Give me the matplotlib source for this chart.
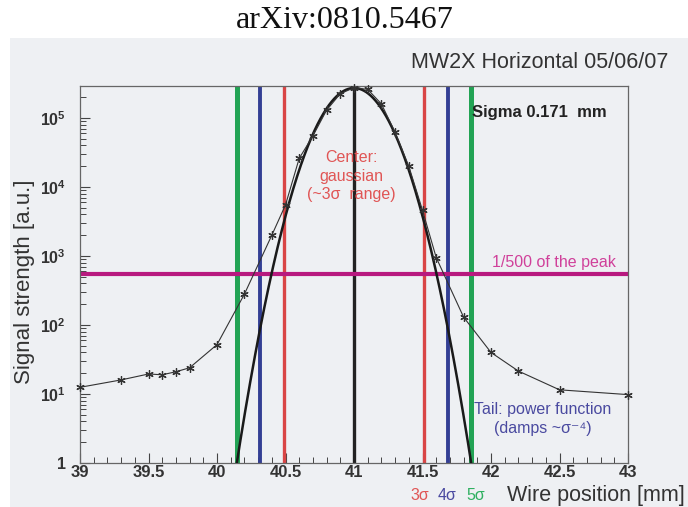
import numpy as np
import matplotlib
matplotlib.use("Agg")
import matplotlib.pyplot as plt
from matplotlib.patches import Rectangle
from matplotlib.ticker import FixedLocator, FixedFormatter, MultipleLocator, LogLocator, NullFormatter

plt.rcParams['font.family'] = ['Liberation Sans', 'DejaVu Sans']
plt.rcParams['mathtext.fontset'] = 'custom'
plt.rcParams['mathtext.rm'] = 'Liberation Sans'
plt.rcParams['mathtext.bf'] = 'Liberation Sans:bold'
plt.rcParams['mathtext.it'] = 'Liberation Sans:italic'

# ---- data ----
wire_pos = [39.0, 39.3, 39.5, 39.6, 39.7, 39.8, 40.0, 40.2, 40.4, 40.5, 40.6, 40.7,
            40.8, 40.9, 41.0, 41.1, 41.2, 41.3, 41.4, 41.5, 41.6, 41.8, 42.0, 42.2,
            42.5, 43.0]
signal = [12.5, 16, 19.5, 19, 21, 24, 52, 280, 2000, 5500, 26000, 55000,
          130000, 225000, 275000, 260000, 160000, 62000, 20000, 4600, 950, 130, 40, 21.5,
          11.5, 9.8]

fit_amp = 2.72e5      # gaussian fit amplitude
fit_mean = 41.0       # gaussian fit centre [mm]
fit_sigma = 0.171     # gaussian fit sigma [mm]
sigma_multiples = [3, 4, 5]
sigma_colors = ['#d94545', '#333f94', '#22a354']
peak_fraction = 1 / 500

x_ticks = [39, 39.5, 40, 40.5, 41, 41.5, 42, 42.5, 43]
x_ticklabels = ['39', '39.5', '40', '40.5', '41', '41.5', '42', '42.5', '43']
y_ticks = [1, 10, 100, 1000, 1e4, 1e5]
y_ticklabels = ['1', r'$\mathbf{10^{1}}$', r'$\mathbf{10^{2}}$', r'$\mathbf{10^{3}}$',
                r'$\mathbf{10^{4}}$', r'$\mathbf{10^{5}}$']

W, H = 688, 507
def px(x, y):
    return (x / W, 1 - y / H)

fig = plt.figure(figsize=(W / 100, H / 100), dpi=100)
fig.patch.set_facecolor('white')
bg = '#eef0f3'
fig.patches.append(Rectangle((10 / W, 0), 1 - 10 / W, (H - 38) / H,
                             transform=fig.transFigure, facecolor=bg, edgecolor='none', zorder=-10))

left, right, top, bottom = 80, 628, 86, 463
ax = fig.add_axes([left / W, 1 - bottom / H, (right - left) / W, (bottom - top) / H])
ax.set_facecolor(bg)
ax.set_yscale('log')
ax.set_xlim(39, 43)
ax.set_ylim(1, 2.91e5)

# sigma lines
lw_map = {3: 2.4, 4: 2.8, 5: 3.6}
for k, c in zip(sigma_multiples, sigma_colors):
    for s in (-1, 1):
        ax.axvline(fit_mean + s * k * fit_sigma, color=c, lw=lw_map[k], zorder=2)
ax.axvline(fit_mean, color='#222222', lw=2.4, zorder=2)
ax.axhline(fit_amp * peak_fraction, color='#b8197f', lw=3.0, zorder=2)

# gaussian fit curve
xf = np.linspace(39, 43, 2001)
yf = fit_amp * np.exp(-0.5 * ((xf - fit_mean) / fit_sigma) ** 2)
ax.plot(xf, yf, color='#1a1a1a', lw=1.8, zorder=3)

# data
ax.plot(wire_pos, signal, color='#333333', lw=0.8, marker=(6, 2, 0), markersize=6,
        markeredgewidth=0.9, zorder=4, clip_on=False)

# axes styling
for sp in ax.spines.values():
    sp.set_color('#666666')
    sp.set_linewidth(0.9)
ax.xaxis.set_major_locator(FixedLocator(x_ticks))
ax.xaxis.set_major_formatter(FixedFormatter(x_ticklabels))
ax.xaxis.set_minor_locator(MultipleLocator(0.1))
ax.yaxis.set_major_locator(FixedLocator(y_ticks))
ax.yaxis.set_major_formatter(FixedFormatter(y_ticklabels))
ax.yaxis.set_minor_locator(LogLocator(base=10, subs=np.arange(2, 10), numticks=20))
ax.yaxis.set_minor_formatter(NullFormatter())
ax.tick_params(axis='both', which='both', direction='in', colors='#444444',
               top=False, right=False)
ax.tick_params(axis='both', which='major', length=7, width=0.8)
ax.tick_params(axis='both', which='minor', length=4, width=0.7)
ax.tick_params(axis='x', which='major', pad=1.5, labelsize=12)
ax.tick_params(axis='y', which='major', pad=10, labelsize=11.5)
for lab in ax.get_xticklabels():
    lab.set_fontweight('bold')
    lab.set_color('#333333')
for lab in ax.get_yticklabels():
    lab.set_fontweight('bold')
    lab.set_color('#333333')

# texts
fig.text(*px(345, 20), 'arXiv:0810.5467', family='Liberation Serif', fontsize=23,
         ha='center', va='center', color='#111111')
fig.text(*px(668, 62), 'MW2X Horizontal 05/06/07', fontsize=15.5, ha='right', va='center',
         color='#333333')
fig.text(*px(472, 112), 'Sigma 0.171  mm', fontsize=12, fontweight='bold', ha='left',
         va='center', color='#222222')
fig.text(*px(351, 176), 'Center:\ngaussian\n(~3σ  range)', fontsize=11.5, ha='center',
         va='center', color='#e05555', linespacing=1.25)
fig.text(*px(492, 263), '1/500 of the peak', fontsize=11.5, ha='left', va='center',
         color='#d0409a')
fig.text(*px(543, 419), 'Tail: power function\n(damps ~σ⁻⁴)', fontsize=11.5, ha='center',
         va='center', color='#4a4aa0', linespacing=1.3)
fig.text(*px(25, 282), 'Signal strength [a.u.]', fontsize=16, rotation=90, ha='center',
         va='center', color='#333333')
fig.text(*px(685, 496), 'Wire position [mm]', fontsize=15.5, ha='right', va='center',
         color='#333333')
for xx, k, c in zip([410, 438, 466], sigma_multiples, ['#e05555', '#4a4aa0', '#2fb060']):
    fig.text(*px(xx, 496), f'{k}σ', fontsize=11.5, ha='left', va='center', color=c)

fig.savefig('out.png', dpi=100, facecolor=fig.get_facecolor())
